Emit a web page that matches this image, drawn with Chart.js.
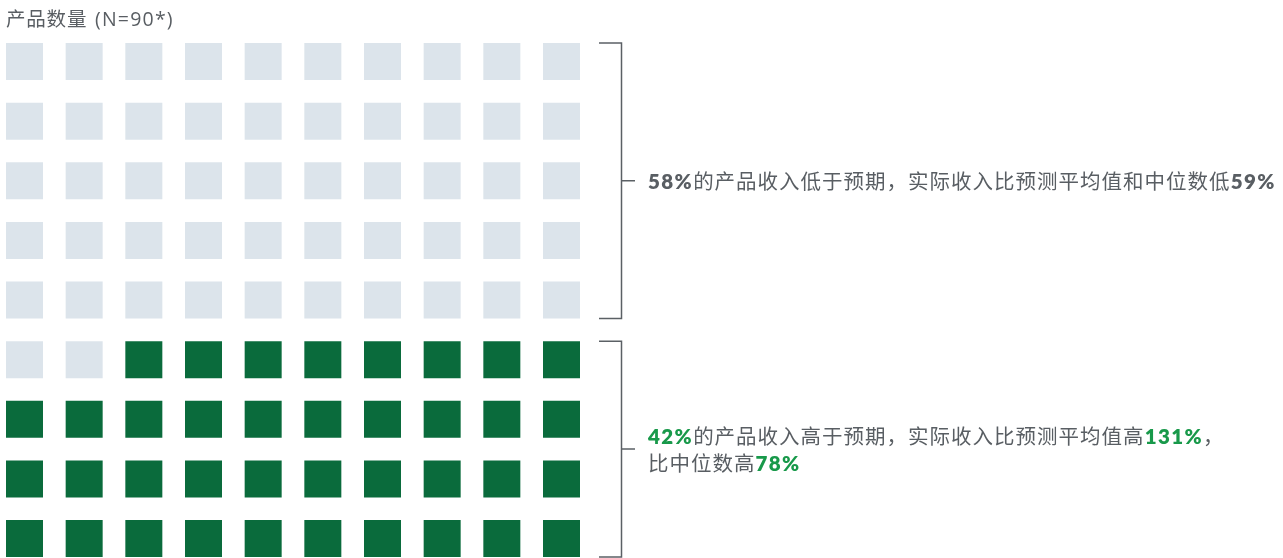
<!DOCTYPE html>
<html lang="zh-CN">
<head>
<meta charset="utf-8">
<script src="https://cdn.jsdelivr.net/npm/chart.js@4"></script>
<style>
  html, body { margin: 0; padding: 0; background: #ffffff; }
  #wrap { position: relative; width: 1283px; height: 558px; overflow: hidden; }
  #c { position: absolute; left: 0; top: 0; }
  .txt { position: absolute; font-family: "Lato", "Noto Sans CJK SC", sans-serif; color: #595e63; white-space: nowrap; }
  #title { left: 6px; top: 5px; font-size: 19.5px; line-height: 27px; letter-spacing: 0.8px; }
  #title .lat { font-family: "Open Sans", "Lato", sans-serif; letter-spacing: 1.2px; margin-left: 2px; }
  .note { left: 648px; font-size: 20.5px; line-height: 27px; letter-spacing: 1.0px; }
  #note1 { top: 168px; }
  #note2 { top: 423px; }
  .b { font-weight: 800; letter-spacing: 1.4px; }
  .g { color: #18994a; font-weight: 800; letter-spacing: 1.4px; }
</style>
</head>
<body>
<div id="wrap">
  <canvas id="c" width="1283" height="558"></canvas>
  <div id="title" class="txt"></div>
  <div id="note1" class="txt note"></div>
  <div id="note2" class="txt note"></div>
</div>
<script>
// ---- data ----
const categories = ['收入低于预期', '收入高于预期'];
const counts = [52, 38];            // 52 + 38 = 90 products
const colors = ['#dce4eb', '#0a6b3c'];
const columnsPerRow = 10;
const titleParts = [['产品数量', ''], ['(N=90*)', 'lat']];
const note1Parts = [['58%', 'b'], ['的产品收入低于预期，实际收入比预测平均值和中位数低', ''], ['59%', 'b']];
const note2Parts = [['42%', 'g'], ['的产品收入高于预期，实际收入比预测平均值高', ''], ['131%', 'g'], ['，', ''], ['\n', ''], ['比中位数高', ''], ['78%', 'g']];
const bracketRows = [[0, 4], [5, 8]];

// ---- build waffle points from counts ----
const datasets = [];
let k = 0;
categories.forEach((cat, ci) => {
  const pts = [];
  for (let i = 0; i < counts[ci]; i++, k++) {
    pts.push({ x: k % columnsPerRow, y: Math.floor(k / columnsPerRow) });
  }
  datasets.push({
    label: cat,
    data: pts,
    backgroundColor: colors[ci],
    pointBackgroundColor: colors[ci],
    pointBorderWidth: 0,
    borderWidth: 0,
    clip: false
  });
});
const nRows = Math.ceil(k / columnsPerRow);

// ---- text ----
function fill(el, parts) {
  parts.forEach(([t, cls], i) => {
    if (t === '\n') { el.appendChild(document.createElement('br')); return; }
    const s = document.createElement('span');
    if (cls) s.className = cls;
    s.textContent = t;
    el.appendChild(s);
    if (el.id === 'title' && i === 0) el.appendChild(document.createTextNode(' '));
  });
}
fill(document.getElementById('title'), titleParts);
fill(document.getElementById('note1'), note1Parts);
fill(document.getElementById('note2'), note2Parts);

// ---- layout ----
const square = 37;
const W = 1283, H = 558;
const firstCX = 24.5, lastCX = 561.5, firstCY = 61.5, lastCY = 538.5;

const bracketPlugin = {
  id: 'brackets',
  afterDatasetsDraw(chart) {
    const ctx = chart.ctx;
    const y = chart.scales.y, x = chart.scales.x;
    const right = x.getPixelForValue(columnsPerRow - 1) + square / 2;
    const xStart = right + 19, xV = right + 41.5, xTick = right + 55;
    ctx.save();
    ctx.strokeStyle = '#5b6065';
    ctx.lineWidth = 1.5;
    bracketRows.forEach(([r0, r1]) => {
      const top = y.getPixelForValue(r0) - square / 2;
      const bot = y.getPixelForValue(r1) + square / 2;
      const mid = (top + bot) / 2;
      ctx.beginPath();
      ctx.moveTo(xStart, top);
      ctx.lineTo(xV, top);
      ctx.lineTo(xV, bot);
      ctx.lineTo(xStart, bot);
      ctx.moveTo(xV, mid);
      ctx.lineTo(xTick, mid);
      ctx.stroke();
    });
    ctx.restore();
  }
};

new Chart(document.getElementById('c'), {
  type: 'scatter',
  data: { datasets },
  options: {
    responsive: false,
    animation: false,
    devicePixelRatio: 1,
    events: [],
    layout: { autoPadding: false, padding: { left: firstCX, right: W - lastCX, top: firstCY, bottom: H - lastCY } },
    elements: { point: { pointStyle: 'rect', radius: square / Math.SQRT2, hoverRadius: square / Math.SQRT2, borderWidth: 0 } },
    scales: {
      x: { type: 'linear', min: 0, max: columnsPerRow - 1, display: false },
      y: { type: 'linear', min: 0, max: nRows - 1, reverse: true, display: false }
    },
    plugins: { legend: { display: false }, tooltip: { enabled: false }, title: { display: false } }
  },
  plugins: [bracketPlugin]
});
</script>
</body>
</html>
